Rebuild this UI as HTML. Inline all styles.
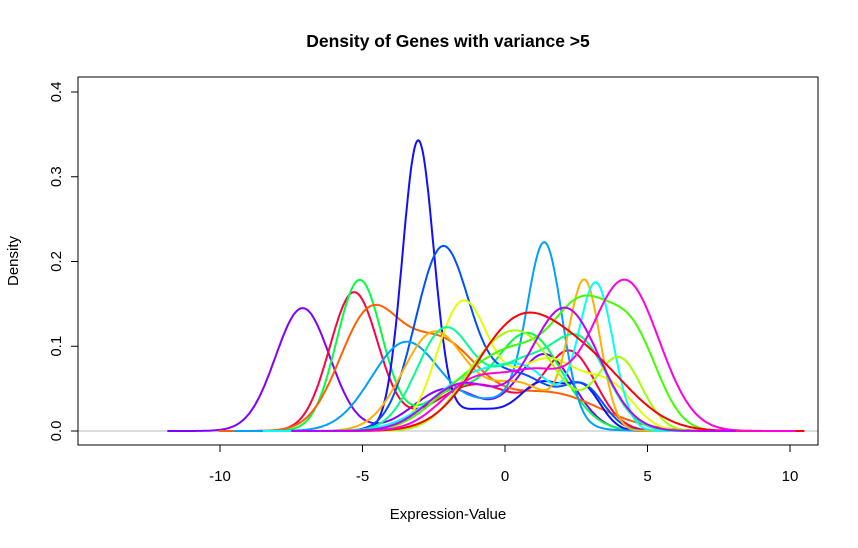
<!DOCTYPE html>
<html><head><meta charset="utf-8"><style>
html,body{margin:0;padding:0;background:#fff;}
svg text{font-family:"Liberation Sans",Arial,sans-serif;}
</style></head><body>
<svg id="chart" width="858" height="543" viewBox="0 0 858 543" xmlns="http://www.w3.org/2000/svg">
<rect width="858" height="543" fill="#fff"/>
<text x="448" y="47" text-anchor="middle" font-size="17.5" font-weight="bold">Density of Genes with variance &gt;5</text>
<text x="448" y="519" text-anchor="middle" font-size="15">Expression-Value</text>
<text transform="translate(18,261) rotate(-90)" text-anchor="middle" font-size="15">Density</text>
<g id="axes"></g>
<g id="curves"></g>
<rect x="78" y="77" width="740" height="368" fill="none" stroke="#000" stroke-width="1"/>
</svg>
<script>
const xTicks=[-10,-5,0,5,10];
const yTicks=[0,0.1,0.2,0.3,0.4];
const yTickLabels=["0.0","0.1","0.2","0.3","0.4"];
const seriesColors=["#8000FF","#FF0040","#00FF40","#FF6000","#1010FF","#0050FF","#00A0FF","#E0FF00","#FFB000","#00FFFF","#00FF90","#40FF00","#A0FF00","#FF0000","#FF00E0","#C000FF"];
// components per series: [mean, sd, height]
const s1=[[-7.1,0.95,0.145],[-2,1.2,0.05],[1.4,1.0,0.09]];
const s2=[[-5.3,0.85,0.163],[-1,1.5,0.055],[2.3,0.9,0.09]];
const s3=[[-5.1,0.8,0.178],[-2,1,0.04],[0.8,1.2,0.115]];
const s4=[[-4.8,1.05,0.13],[-2.3,1.3,0.1],[1.5,1.8,0.045]];
const s5=[[-3.05,0.55,0.34],[-1,1,0.025],[1.3,0.8,0.055],[2.8,0.6,0.045]];
const s6=[[-2.2,0.95,0.213],[0.5,1.2,0.065],[2.8,0.7,0.045]];
const s7=[[-3.5,1.2,0.103],[0,1.5,0.035],[1.4,0.6,0.2]];
const s8=[[-1.5,0.9,0.148],[1.5,1.3,0.085],[3.8,0.8,0.04]];
const s9=[[-2.5,1.1,0.115],[0.5,1.2,0.055],[2.8,0.55,0.17]];
const s10=[[-1,1.5,0.065],[1,1,0.045],[3.2,0.6,0.17]];
const s11=[[-2.1,1.0,0.12],[0.5,1,0.07],[2.6,1,0.105]];
const s12=[[-1.5,1.2,0.045],[0.5,1.2,0.08],[2.7,1,0.13],[4.5,0.9,0.105]];
const s13=[[-1,1,0.045],[0.7,1.2,0.105],[4,0.8,0.085]];
const s14=[[0.4,1.5,0.12],[3,1.5,0.07]];
const s15=[[-1,1.2,0.06],[1.2,1,0.055],[4.2,1.2,0.178]];
const s16=[[-1.5,1.2,0.055],[2.1,1.2,0.145]];
const seriesList=[s1,s2,s3,s4,s5,s6,s7,s8,s9,s10,s11,s12,s13,s14,s15,s16];

const NS="http://www.w3.org/2000/svg";
const X=v=>505+v*28.5;
const Y=v=>431-v*847.5;
const axes=document.getElementById('axes');
const curves=document.getElementById('curves');
function mk(tag,attrs,parent){const e=document.createElementNS(NS,tag);for(const k in attrs)e.setAttribute(k,attrs[k]);parent.appendChild(e);return e;}
const zl=mk('line',{x1:78,x2:818,y1:Y(0),y2:Y(0),stroke:'#bbb','stroke-width':1},axes);


mk('line',{x1:X(-10),x2:X(10),y1:445,y2:445,stroke:'#000'},axes);
mk('line',{x1:78,x2:78,y1:Y(0),y2:Y(0.4),stroke:'#000'},axes);
xTicks.forEach(t=>{
  mk('line',{x1:X(t),x2:X(t),y1:445,y2:452,stroke:'#000'},axes);
  const tx=mk('text',{x:X(t),y:481,'text-anchor':'middle','font-size':15},axes);
  tx.textContent=String(t);
  
  
});
yTicks.forEach((t,i)=>{
  mk('line',{x1:71,x2:78,y1:Y(t),y2:Y(t),stroke:'#000'},axes);
  const tx=mk('text',{transform:`translate(61,${Y(t)}) rotate(-90)`,'text-anchor':'middle','font-size':15},axes);
  tx.textContent=yTickLabels[i];
  
  
});
seriesList.forEach((comps,i)=>{
  let lo=Infinity,hi=-Infinity;
  comps.forEach(c=>{lo=Math.min(lo,c[0]-5*c[1]);hi=Math.max(hi,c[0]+5*c[1]);});
  let d='';
  for(let k=0;k<=300;k++){
    const x=lo+(hi-lo)*k/300;
    let y=0;comps.forEach(c=>{y+=c[2]*Math.exp(-0.5*((x-c[0])/c[1])**2);});
    d+=(k?'L':'M')+X(x).toFixed(1)+','+Y(y).toFixed(1);
  }
  const p=mk('path',{d:d,fill:'none',stroke:seriesColors[i],'stroke-width':2},curves);
  
  
});
</script>
</body></html>
